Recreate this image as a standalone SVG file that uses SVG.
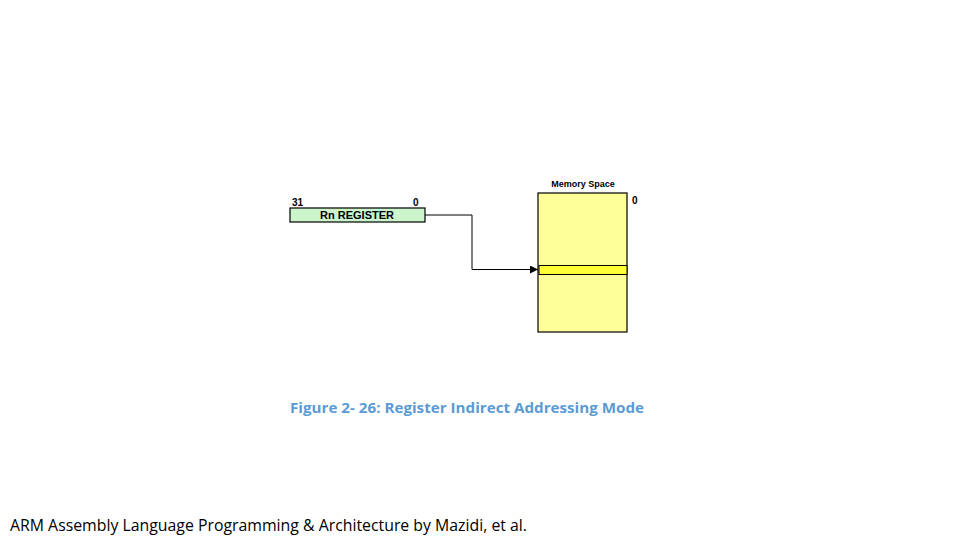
<svg xmlns="http://www.w3.org/2000/svg" width="960" height="540" viewBox="0 0 960 540">
<style>
.s{font-family:"Liberation Sans",Arial,sans-serif;font-weight:bold;fill:#000}
.c{font-family:"Open Sans","Liberation Sans",sans-serif}
</style>
<defs><marker id="a" markerWidth="8" markerHeight="8" refX="8" refY="4" orient="auto" markerUnits="userSpaceOnUse"><path d="M0,0 L8,4 L0,8 Z" fill="#000"/></marker></defs>
<rect width="960" height="540" fill="#fff"/>
<g id="register">
<rect x="290" y="208" width="135" height="14" fill="#ccf5cc" stroke="#000" stroke-width="1.2"/>
<text class="s" x="357" y="219" font-size="11" text-anchor="middle">Rn REGISTER</text>
<text class="s" x="292" y="206" font-size="10">31</text>
<text class="s" x="413" y="206" font-size="10">0</text>
</g>
<g id="memory">
<rect x="538" y="193" width="89" height="139" fill="#ffff99" stroke="#000" stroke-width="1.2"/>
<rect x="539" y="265.5" width="88" height="9" fill="#ffff33" stroke="#000" stroke-width="1"/>
<text class="s" x="583" y="187" font-size="9" text-anchor="middle">Memory Space</text>
<text class="s" x="632" y="204" font-size="10">0</text>
</g>
<g id="connectors">
<polyline points="425,215 472,215 472,269.5 538,269.5" fill="none" stroke="#000" stroke-width="1" marker-end="url(#a)"/>
</g>
<text class="c" x="290" y="413" font-size="14.5" font-weight="bold" fill="#5b9bd5" textLength="354" lengthAdjust="spacingAndGlyphs">Figure 2- 26: Register Indirect Addressing Mode</text>
<text class="c" x="10" y="531" font-size="15.5" fill="#000" textLength="517" lengthAdjust="spacingAndGlyphs">ARM Assembly Language Programming &amp; Architecture by Mazidi, et al.</text>
</svg>
